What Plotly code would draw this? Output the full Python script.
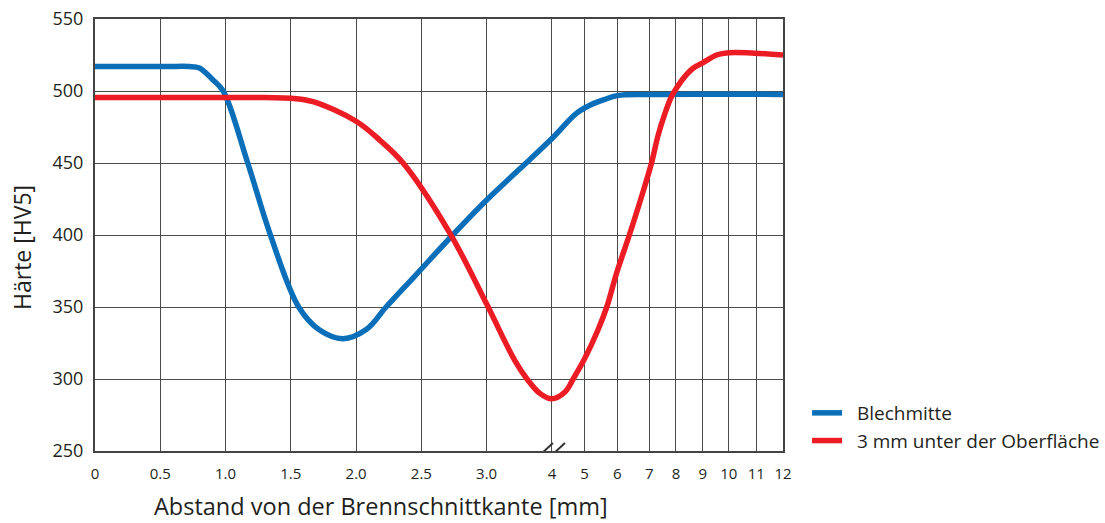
import numpy as np
import plotly.graph_objects as go

# Tick table of the broken x axis: distance in mm and its position on the axis
tick_mm = [0, 0.5, 1.0, 1.5, 2.0, 2.5, 3.0, 4, 5, 6, 7, 8, 9, 10, 11, 12]
tick_text = ["0", "0.5", "1.0", "1.5", "2.0", "2.5", "3.0", "4", "5", "6", "7", "8", "9", "10", "11", "12"]
tick_pos = [0, 1, 2, 3, 4, 5, 6, 7, 7.5, 8.0, 8.49, 8.9, 9.31, 9.71, 10.13, 10.54]

y_ticks = [250, 300, 350, 400, 450, 500, 550]

# Hardness profile, sheet centre
blech_mm = [0, 0.55, 0.72, 0.80, 0.90, 0.982, 1.17, 1.34, 1.56, 1.72, 1.90, 2.08, 2.23,
            2.45, 2.74, 3.0, 3.5, 4.0, 4.75, 5.2, 5.6, 6.0, 7.0, 12.0]
blech_hv = [517, 517, 517, 516, 508, 500, 450, 401, 350, 334, 328, 334.5, 350,
            371.5, 400, 424.3, 445.6, 467, 484.5, 490.5, 494, 496.8, 497.6, 497.6]

# Hardness profile, 3 mm below the surface
ober_mm = [0, 1.3, 1.5, 1.67, 2.0, 2.18, 2.36, 2.72, 3.0, 3.432, 3.635, 3.815, 3.994,
           4.40, 4.65, 5.0, 5.41, 5.68, 5.98, 6.39, 6.76, 7.09, 7.33, 7.58, 7.83,
           8.02, 8.33, 8.64, 9.0, 9.53, 10.0, 12.0]
ober_hv = [495.4, 495.4, 495, 492.6, 479, 466, 450, 401, 352, 312.8, 299, 290, 286.2,
           291, 300, 314, 334, 350, 373.4, 400.7, 426.6, 450.2, 469, 484, 496,
           502, 510, 515.8, 519.5, 525, 526.6, 525]


def to_axis(mm):
    return np.interp(mm, tick_mm, tick_pos)


BLUE = "#0a6fb8"
RED = "#ec1c24"
TXT = "#231f20"
GRID = "#4a4a4a"
FONT = "Open Sans"
NB = "\u00a0\u00a0"

fig = go.Figure()
fig.add_trace(go.Scatter(
    x=to_axis(blech_mm), y=blech_hv, mode="lines", name=NB + "Blechmitte",
    line=dict(color=BLUE, width=5.5, shape="spline", smoothing=1),
))
fig.add_trace(go.Scatter(
    x=to_axis(ober_mm), y=ober_hv, mode="lines", name=NB + "3 mm unter der Oberfläche",
    line=dict(color=RED, width=5.5, shape="spline", smoothing=1),
))

# Axis break marks at 4 mm
for dx in (-14, -2):
    fig.add_shape(
        type="line", xref="x", yref="y", xsizemode="pixel", ysizemode="pixel",
        xanchor=to_axis(4), yanchor=250,
        x0=dx, x1=dx + 15, y0=-6, y1=8,
        line=dict(color="#333", width=2), layer="above",
    )

fig.update_layout(
    width=1105, height=523,
    margin=dict(l=95, r=322, t=19, b=72, autoexpand=False),
    paper_bgcolor="white", plot_bgcolor="white",
    font=dict(family=FONT, color=TXT),
    showlegend=True,
    legend=dict(
        x=1.035, y=(451 - 427) / 432, xanchor="left", yanchor="middle",
        font=dict(size=19, color=TXT, family=FONT),
        bgcolor="rgba(0,0,0,0)", itemwidth=30,
    ),
)
fig.update_xaxes(
    range=[tick_pos[0], tick_pos[-1]], automargin=False,
    tickmode="array", tickvals=tick_pos, ticktext=tick_text,
    tickfont=dict(size=15, color=TXT), ticks="", ticklabelstandoff=8,
    showgrid=True, gridcolor=GRID, gridwidth=1,
    showline=True, linecolor="#444", linewidth=2, mirror=True,
    zeroline=False,
)
fig.update_yaxes(
    range=[250, 550], automargin=False,
    tickmode="array", tickvals=y_ticks,
    tickfont=dict(size=18, color=TXT), ticks="", ticklabelstandoff=6,
    showgrid=True, gridcolor=GRID, gridwidth=1,
    showline=True, linecolor="#444", linewidth=2, mirror=True,
    zeroline=False,
)

fig.add_annotation(
    text="Abstand von der Brennschnittkante [mm]", xref="paper", yref="paper",
    x=(381 - 95) / 688, y=(451 - 506) / 432, xanchor="center", yanchor="middle",
    showarrow=False, font=dict(size=23.5, color=TXT, family=FONT),
)
fig.add_annotation(
    text="Härte [HV5]", xref="paper", yref="paper",
    x=(22 - 95) / 688, y=(451 - 248) / 432, xanchor="center", yanchor="middle",
    textangle=-90, showarrow=False, font=dict(size=23, color=TXT, family=FONT),
)

fig.write_html("out.html")
